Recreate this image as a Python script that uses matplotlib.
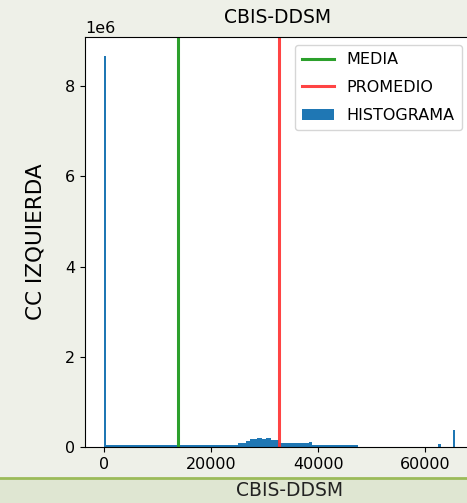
import matplotlib
matplotlib.use("Agg")
import matplotlib.pyplot as plt
from matplotlib.patches import Rectangle
from matplotlib.lines import Line2D

# histogram: bin edges (pixel value) and counts (millions)
HIST_EDGES = [0, 256, 25000, 26500, 27300, 28500, 29600, 30200, 31200, 32700,
              38300, 38800, 47500, 62400, 62900, 65280, 65536]
HIST_COUNTS = [8.66, 0.045, 0.08, 0.14, 0.18, 0.20, 0.18, 0.19, 0.15, 0.095,
               0.11, 0.05, 0.0, 0.06, 0.0, 0.37]
MEDIA = 13900
PROMEDIO = 32700
TITLE = "CBIS-DDSM"
YLABEL = "CC IZQUIERDA"
CAPTION = "CBIS-DDSM"

BG = "#eef0e8"
BAND = "#dfe6d2"
BAND_LINE = "#9bbb59"

fig = plt.figure(figsize=(4.67, 5.03), dpi=100, facecolor=BG)
plt.rcParams["font.size"] = 11.5

# caption band at the bottom
fig.patches.append(Rectangle((0, 0), 1, 24 / 503, transform=fig.transFigure,
                             facecolor=BAND, edgecolor="none", zorder=0))
fig.add_artist(Line2D([0, 1], [25 / 503, 25 / 503], transform=fig.transFigure,
                      color=BAND_LINE, lw=2))
fig.text(290 / 467, 12 / 503, CAPTION, ha="center", va="center", fontsize=13.5,
         color="#222222")

ax = fig.add_axes([85 / 467, 56 / 503, 385 / 467, 410 / 503])
ax.set_facecolor("white")

ax.stairs([c * 1e6 for c in HIST_COUNTS], HIST_EDGES, fill=True,
          color="#1f77b4", label="HISTOGRAMA")
ax.axvline(MEDIA, color="#2ca02c", lw=2.2, label="MEDIA")
ax.axvline(PROMEDIO, color="#ff3030", lw=2.2, alpha=0.9, label="PROMEDIO")

ax.set_xlim(-3577, 68400)
ax.set_ylim(0, 9.09e6)
ax.set_xticks([0, 20000, 40000, 60000])
ax.set_yticks([0, 2e6, 4e6, 6e6, 8e6])
ax.set_title(TITLE, fontsize=13.5, pad=10)
ax.set_ylabel(YLABEL, fontsize=15.5, labelpad=14)

handles, labels = ax.get_legend_handles_labels()
order = [labels.index(l) for l in ["MEDIA", "PROMEDIO", "HISTOGRAMA"]]
ax.legend([handles[i] for i in order], [labels[i] for i in order],
          loc="upper right", fontsize=11.5, labelspacing=0.8, borderpad=0.45)

fig.savefig("out.png", dpi=100, facecolor=BG)
